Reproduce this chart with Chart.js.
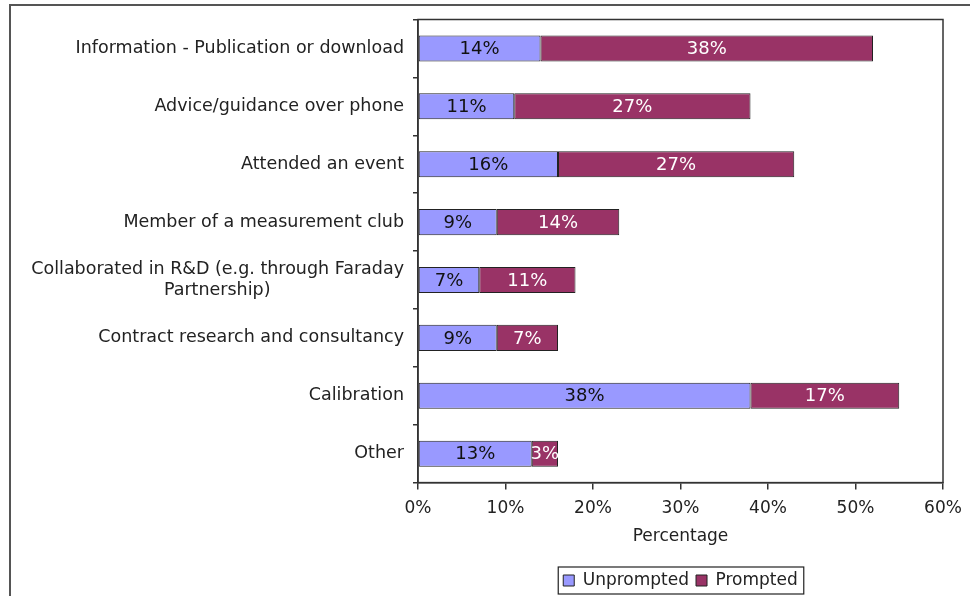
<!DOCTYPE html>
<html>
<head>
<meta charset="utf-8">
<script src="https://cdn.jsdelivr.net/npm/chart.js@4"></script>
<style>
  html, body { margin: 0; padding: 0; background: #fff; }
  #wrap { position: relative; width: 970px; height: 596px; overflow: hidden; }
  /* outer frame, only top and left edges fall inside the view */
  #frame {
    position: absolute; left: 9px; top: 4px; width: 1000px; height: 700px;
    border-left: 2px solid #555; border-top: 2px solid #555;
  }
  canvas { position: absolute; left: 0; top: 0; }
</style>
</head>
<body>
<div id="wrap">
  <div id="frame"></div>
  <canvas id="chart" width="970" height="596"></canvas>
</div>
<script>
// Categories and survey results (percent of respondents)
const categories = [
  'Information - Publication or download',
  'Advice/guidance over phone',
  'Attended an event',
  'Member of a measurement club',
  ['Collaborated in R&D (e.g. through Faraday', 'Partnership)'],
  'Contract research and consultancy',
  'Calibration',
  'Other',
];
const unprompted = [14, 11, 16, 9, 7, 9, 38, 13];
const prompted = [38, 27, 27, 14, 11, 7, 17, 3];
const xTickValues = [0, 10, 20, 30, 40, 50, 60];

const FONT = 'DejaVu Sans';
const FONT_SIZE = 17;
const CAT_FONT_SIZE = 17.5;

// Pad the shorter line of a two-line label so it sits centred under the longer one
function centreLines(label) {
  if (!Array.isArray(label)) return label;
  const ctx = document.createElement('canvas').getContext('2d');
  ctx.font = CAT_FONT_SIZE + 'px "' + FONT + '"';
  const widths = label.map((l) => ctx.measureText(l).width);
  const longest = Math.max(...widths);
  const space = ctx.measureText(' ').width;
  return label.map((l, i) => l + ' '.repeat(Math.round((longest - widths[i]) / 2 / space)));
}

// Values printed in the middle of each segment
const segmentLabels = {
  id: 'segmentLabels',
  afterDatasetsDraw(chart) {
    const ctx = chart.ctx;
    ctx.save();
    ctx.font = '18px "' + FONT + '"';
    ctx.textAlign = 'center';
    ctx.textBaseline = 'middle';
    chart.data.datasets.forEach((ds, i) => {
      chart.getDatasetMeta(i).data.forEach((bar, j) => {
        const p = bar.getProps(['x', 'y', 'base'], true);
        ctx.fillStyle = ds.labelColor;
        ctx.fillText(ds.data[j] + '%', (p.x + p.base) / 2, p.y + 1);
      });
    });
    ctx.restore();
  },
};

// Box round the plot area and round the legend
const frames = {
  id: 'frames',
  afterDraw(chart) {
    const ctx = chart.ctx;
    const a = chart.chartArea;
    ctx.save();
    ctx.strokeStyle = '#333';
    ctx.lineWidth = 1.5;
    ctx.strokeRect(a.left, a.top, a.right - a.left, a.bottom - a.top);

    const boxes = chart.legend.legendHitBoxes;
    if (boxes && boxes.length) {
      const left = Math.min(...boxes.map((b) => b.left)) - 5;
      const right = Math.max(...boxes.map((b) => b.left + b.width)) + 6;
      const top = Math.min(...boxes.map((b) => b.top)) - 5;
      const bottom = Math.max(...boxes.map((b) => b.top + b.height)) + 5;
      ctx.lineWidth = 1.2;
      ctx.strokeStyle = '#222';
      ctx.strokeRect(left, top, right - left, bottom - top);
    }
    ctx.restore();
  },
};

new Chart(document.getElementById('chart'), {
  type: 'bar',
  data: {
    labels: categories.map(centreLines),
    datasets: [
      {
        label: 'Unprompted',
        data: unprompted,
        backgroundColor: '#9999ff',
        borderColor: '#222',
        borderWidth: 1,
        borderSkipped: false,
        labelColor: '#111',
      },
      {
        label: 'Prompted',
        data: prompted,
        backgroundColor: '#993366',
        borderColor: '#222',
        borderWidth: 1,
        borderSkipped: false,
        labelColor: '#fff',
      },
    ],
  },
  options: {
    indexAxis: 'y',
    responsive: false,
    animation: false,
    layout: { padding: { top: 19, right: 27, left: 0, bottom: -3 } },
    datasets: { bar: { barPercentage: 0.45, categoryPercentage: 1 } },
    scales: {
      x: {
        stacked: true,
        min: 0,
        max: 60,
        afterBuildTicks: (scale) => {
          scale.ticks = xTickValues.map((v) => ({ value: v }));
        },
        // the end labels may overhang; the layout padding decides the plot width
        afterFit: (scale) => {
          scale.paddingRight = 0;
          scale.paddingLeft = 0;
        },
        grid: { drawOnChartArea: false, drawTicks: true, tickLength: 7, color: '#333', lineWidth: 1.5 },
        border: { color: '#333', width: 1.5 },
        ticks: {
          color: '#222',
          font: { family: FONT, size: FONT_SIZE, lineHeight: 1 },
          padding: 10,
          maxRotation: 0,
          callback: (v) => v + '%',
        },
        title: {
          display: true,
          text: 'Percentage',
          color: '#222',
          font: { family: FONT, size: FONT_SIZE },
          padding: { top: 0, bottom: 18 },
        },
      },
      y: {
        stacked: true,
        afterFit: (scale) => { scale.width = 418; },
        grid: { drawOnChartArea: false, drawTicks: true, tickLength: 5, color: '#333', lineWidth: 1.5 },
        border: { color: '#333', width: 1.5 },
        ticks: {
          color: '#222',
          font: { family: FONT, size: CAT_FONT_SIZE },
          padding: 9,
          autoSkip: false,
        },
      },
    },
    plugins: {
      legend: {
        position: 'bottom',
        fullSize: false,
        labels: {
          color: '#222',
          font: { family: FONT, size: FONT_SIZE },
          boxWidth: 11,
          boxHeight: 11,
          padding: 7,
        },
      },
      tooltip: { enabled: false },
    },
  },
  plugins: [segmentLabels, frames],
});
</script>
</body>
</html>
